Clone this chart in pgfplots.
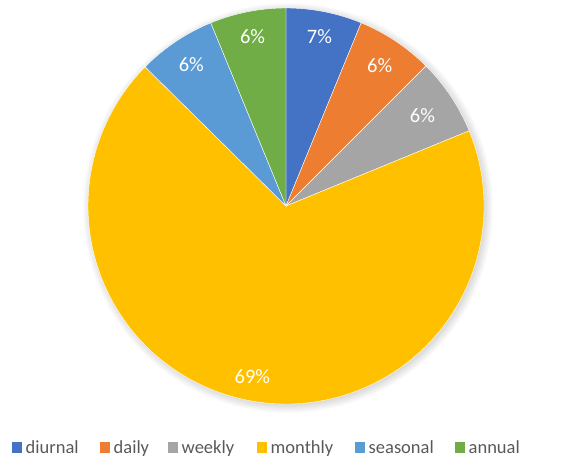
\documentclass[border=0pt]{standalone}
\usepackage{pgfplots}
\usepackage{pgfplotstable}
\pgfplotsset{compat=1.18}
\usepackage{fontspec}
\setmainfont{Carlito}
\definecolor{cdiurnal}{HTML}{4472C4}
\definecolor{cdaily}{HTML}{ED7D31}
\definecolor{cweekly}{HTML}{A5A5A5}
\definecolor{cmonthly}{HTML}{FFC000}
\definecolor{cseasonal}{HTML}{5B9BD5}
\definecolor{cannual}{HTML}{70AD47}
\definecolor{legtext}{HTML}{595959}
\newcommand\lblfont{\fontsize{20.5bp}{24bp}\selectfont}
\newcommand\legfont{\fontsize{18.5bp}{22bp}\selectfont}

\pgfplotstableread{
name value col lab lrad legx
diurnal 6.2 cdiurnal 7 173 12
daily 6.3 cdaily 6 169 100
weekly 6.3 cweekly 6 164 168
monthly 68.6 cmonthly 69 174 257
seasonal 6.4 cseasonal 6 170 355
annual 6.2 cannual 6 173 455
}\piedata

\begin{document}
\begin{tikzpicture}
\begin{axis}[scale only axis, width=572bp, height=458bp,
  xmin=0, xmax=572, ymin=0, ymax=458, hide axis, clip=false]
% soft shadow
\pgfplotsforeachungrouped \k in {1,...,10}{
  \pgfmathsetmacro\rr{195+\k}
  \edef\tmp{\noexpand\fill[black, opacity=0.014] (axis cs:288,250) circle[radius=\rr bp];}
  \tmp
}
% wedges
\def\cum{0}
\pgfplotsforeachungrouped \i in {0,...,5}{
  \pgfplotstablegetelem{\i}{value}\of\piedata \let\v\pgfplotsretval
  \pgfplotstablegetelem{\i}{col}\of\piedata \let\c\pgfplotsretval
  \pgfmathsetmacro\sa{90-\cum*3.6}
  \pgfmathsetmacro\ea{90-(\cum+\v)*3.6}
  \edef\tmp{\noexpand\fill[\c, draw=white, line width=0.4pt] (axis cs:286,252) -- ([shift={(\sa:198bp)}]axis cs:286,252) arc[start angle=\sa, end angle=\ea, radius=198bp] -- cycle;}
  \tmp
  \pgfmathsetmacro\cum{\cum+\v}
}
% labels
\def\cum{0}
\pgfplotsforeachungrouped \i in {0,...,5}{
  \pgfplotstablegetelem{\i}{value}\of\piedata \let\v\pgfplotsretval
  \pgfplotstablegetelem{\i}{lab}\of\piedata \let\lab\pgfplotsretval
  \pgfplotstablegetelem{\i}{lrad}\of\piedata \let\lr\pgfplotsretval
  \pgfmathsetmacro\ma{90-(\cum+\v/2)*3.6}
  \edef\tmp{\noexpand\node[text=white, font=\noexpand\lblfont, inner sep=0pt] at ([shift={(\ma:\lr bp)}]axis cs:286,252) {\lab\noexpand\%};}
  \tmp
  \pgfmathsetmacro\cum{\cum+\v}
}
% legend
\pgfplotsforeachungrouped \i in {0,...,5}{
  \pgfplotstablegetelem{\i}{name}\of\piedata \let\nm\pgfplotsretval
  \pgfplotstablegetelem{\i}{col}\of\piedata \let\c\pgfplotsretval
  \pgfplotstablegetelem{\i}{legx}\of\piedata \let\lx\pgfplotsretval
  \pgfmathsetmacro\lxe{\lx+10}
  \pgfmathsetmacro\lxt{\lx+13.5}
  \edef\tmp{\noexpand\fill[\c] (axis cs:\lx,5) rectangle (axis cs:\lxe,16);
    \noexpand\node[anchor=base west, inner sep=0pt, text=legtext, font=\noexpand\legfont] at (axis cs:\lxt,4.5) {\nm};}
  \tmp
}
\end{axis}
\pgfresetboundingbox
\useasboundingbox (0,0) rectangle (572bp,458bp);
\end{tikzpicture}
\end{document}
